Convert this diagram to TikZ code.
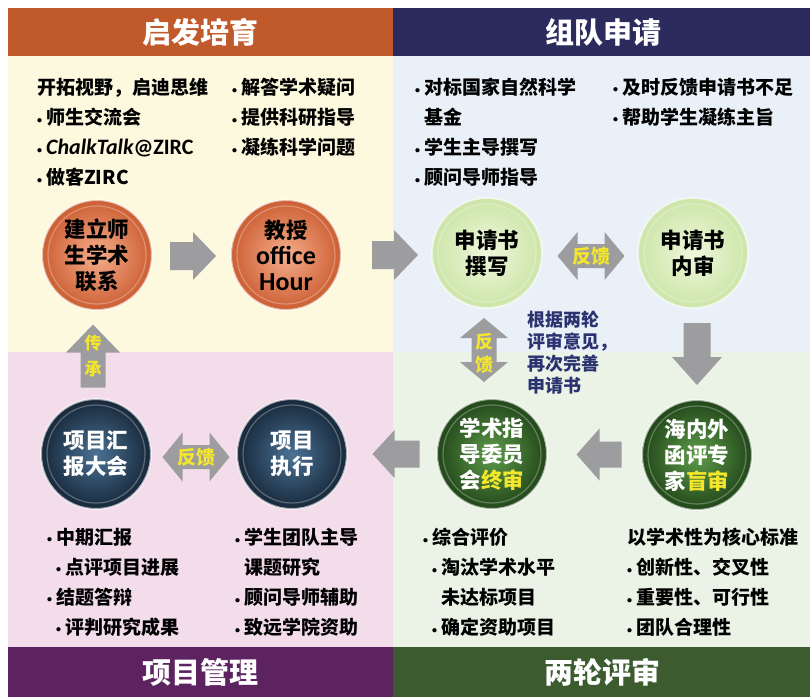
\documentclass[tikz,border=0pt]{standalone}
\usepackage{fontspec}
\setmainfont{Noto Sans CJK SC}
\newfontfamily\carlito{Carlito}
\usetikzlibrary{calc}
\definecolor{bandO}{HTML}{C05A2B}
\definecolor{bandN}{HTML}{2B2B5E}
\definecolor{bandP}{HTML}{5C2360}
\definecolor{bandG}{HTML}{3C5B2E}
\definecolor{bgCream}{HTML}{FCF9DE}
\definecolor{bgBlue}{HTML}{E9F0F8}
\definecolor{bgPink}{HTML}{F4DDEB}
\definecolor{bgGreen}{HTML}{EAF3E5}
\definecolor{arrowgray}{HTML}{9D9D9F}
\definecolor{fbyellow}{HTML}{F3E62C}
\definecolor{noteblue}{HTML}{2B3270}
\definecolor{oIn}{HTML}{F6AE8C}
\definecolor{oOut}{HTML}{CC5E33}
\definecolor{lIn}{HTML}{EFF8DC}
\definecolor{lOut}{HTML}{CCE5A8}
\definecolor{nIn}{HTML}{4A7294}
\definecolor{nOut}{HTML}{17283A}
\definecolor{gIn}{HTML}{5E9C4A}
\definecolor{gOut}{HTML}{22471A}
\newcommand\bu{\makebox[9pt][l]{\raisebox{1.5pt}{\carlito\fontsize{10}{10}\selectfont •}}}
\newcommand\ind{\hspace*{9pt}}
\newcommand\yel[1]{\textcolor{fbyellow}{#1}}
\tikzset{
  ball/.style={circle, minimum size=110pt, inner sep=0pt, align=center,
    font=\bfseries\fontsize{21.5}{26}\selectfont, draw=white, draw opacity=0.6, line width=2pt},
  oball/.style={ball, inner color=oIn, outer color=oOut, text=black},
  lball/.style={ball, inner color=lIn, outer color=lOut, text=black},
  nball/.style={ball, inner color=nIn, outer color=nOut, text=white},
  gball/.style={ball, inner color=gIn, outer color=gOut, text=white},
  ring/.style={draw=white, draw opacity=0.28, line width=1.2pt},
  txt/.style={anchor=north west, inner sep=0pt, align=left, text=black,
    font=\bfseries\fontsize{19}{30}\selectfont},
  title/.style={text=white, inner sep=0pt, font=\bfseries\fontsize{29}{30}\selectfont},
  fb/.style={text=fbyellow, inner sep=0pt, align=center, font=\bfseries\fontsize{19}{23}\selectfont},
  pics/sarr/.style args={#1/#2/#3/#4}{code={
    \fill[arrowgray] ({-#1/2},{-#3/2}) -- ({#1/2-#4},{-#3/2}) -- ({#1/2-#4},{-#2/2}) -- ({#1/2},0)
      -- ({#1/2-#4},{#2/2}) -- ({#1/2-#4},{#3/2}) -- ({-#1/2},{#3/2}) -- cycle;}},
  pics/darr/.style args={#1/#2/#3/#4}{code={
    \fill[arrowgray] ({-#1/2},0) -- ({-#1/2+#4},{-#2/2}) -- ({-#1/2+#4},{-#3/2}) -- ({#1/2-#4},{-#3/2})
      -- ({#1/2-#4},{-#2/2}) -- ({#1/2},0) -- ({#1/2-#4},{#2/2}) -- ({#1/2-#4},{#3/2})
      -- ({-#1/2+#4},{#3/2}) -- ({-#1/2+#4},{#2/2}) -- cycle;}},
}
\begin{document}
\begin{tikzpicture}[x=1pt,y=-1pt]
\useasboundingbox (0,0) rectangle (810,697);
\fill[white] (0,0) rectangle (810,697);
% panels
\fill[bgCream] (8,56) rectangle (393,352);
\fill[bgBlue] (393,56) rectangle (810,352);
\fill[bgPink] (8,352) rectangle (393,647);
\fill[bgGreen] (393,352) rectangle (810,647);
\fill[bandO] (8,8) rectangle (393,56);
\fill[bandN] (393,8) rectangle (810,56);
\fill[bandP] (8,647) rectangle (393,697);
\fill[bandG] (393,647) rectangle (810,697);
% titles
\node[title] (h1) at (200,32) {启发培育};
\node[title] (h2) at (603,32) {组队申请};
\node[title] (h3) at (200,672) {项目管理};
\node[title] (h4) at (602,672) {两轮评审};
% text blocks
\node[txt] (t1) at (37,78) {开拓视野，启迪思维\\\bu 师生交流会\\\bu{\carlito\fontsize{22}{30}\selectfont\itshape ChalkTalk\upshape @ZIRC}\\\bu 做客ZIRC};
\node[txt] (t2) at (232,78) {\bu 解答学术疑问\\\bu 提供科研指导\\\bu 凝练科学问题};
\node[txt] (t3) at (415,78) {\bu 对标国家自然科学\\\ind 基金\\\bu 学生主导撰写\\\bu 顾问导师指导};
\node[txt] (t4) at (613,78) {\bu 及时反馈申请书不足\\\bu 帮助学生凝练主旨};
\node[txt] (t5) at (47,528) {\bu 中期汇报\\\ind\bu 点评项目进展\\\bu 结题答辩\\\ind\bu 评判研究成果};
\node[txt] (t6) at (235,528) {\bu 学生团队主导\\\ind 课题研究\\\bu 顾问导师辅助\\\bu 致远学院资助};
\node[txt] (t7) at (423,528) {\bu 综合评价\\\ind\bu 淘汰学术水平\\\ind\ind 未达标项目\\\ind\bu 确定资助项目};
\node[txt] (t8) at (627,528) {以学术性为核心标准\\\bu 创新性、交叉性\\\bu 重要性、可行性\\\bu 团队合理性};
\node[txt, text=noteblue, font=\bfseries\fontsize{18}{22}\selectfont] (note) at (527,311)
  {根据两轮\\评审意见，\\再次完善\\申请书};
% circles
\node[oball] (c1) at (97,255) {建立师\\生学术\\联系};
\node[oball] (c2) at (286,255) {教授\\{\carlito\fontsize{26}{26}\selectfont office}\\{\carlito\fontsize{26}{26}\selectfont Hour}};
\node[lball] (c3) at (487,253) {申请书\\撰写};
\node[lball] (c4) at (693,253) {申请书\\内审};
\node[nball] (c5) at (96,454) {项目汇\\报大会};
\node[nball] (c6) at (292,454) {项目\\执行};
\node[gball] (c7) at (492,454) {学术指\\导委员\\会\yel{终审}};
\node[gball] (c8) at (697,455) {海内外\\函评专\\家\yel{盲审}};
\foreach \c in {c1,c2,c3,c4,c5,c6,c7,c8} \draw[ring] (\c) circle[radius=49pt];
% block arrows
\coordinate (a12) at ($(c1)!0.5!(c2)+(1.5,1)$);
\coordinate (a23) at ($(c2)!0.5!(c3)+(8.5,1)$);
\coordinate (a34) at ($(c3)!0.5!(c4)+(1,3)$);
\coordinate (a48) at ($(c4)!0.5!(c8)+(2,0)$);
\coordinate (a87) at ($(c8)!0.5!(c7)+(4.5,0)$);
\coordinate (a76) at ($(c7)!0.5!(c6)+(4,0)$);
\coordinate (a65) at ($(c6)!0.5!(c5)+(2,3)$);
\coordinate (a51) at ($(c5)!0.5!(c1)+(-3.5,1.5)$);
\coordinate (a37) at ($(c3)!0.5!(c7)+(-5.5,-3.5)$);
\pic at (a12) {sarr=46/48/28/23};
\pic at (a23) {sarr=46/50/28/24};
\pic at (a34) {darr=67/48/24/20};
\pic[rotate=-90] at (a48) {sarr=62/50/27/28};
\pic[rotate=180] at (a87) {sarr=45/52/26/23};
\pic[rotate=180] at (a76) {sarr=47/48/27/22};
\pic at (a65) {darr=67/49/24/20};
\pic[rotate=90] at (a51) {sarr=63/54/25/28};
\pic[rotate=90] at (a37) {darr=64/48/25/20};
\node[fb] (f34) at (a34) {反馈};
\node[fb] (f65) at (a65) {反馈};
\node[fb, font=\bfseries\fontsize{18}{23}\selectfont] (f37) at ($(a37)+(0,3)$) {反\\馈};
\node[fb, font=\bfseries\fontsize{17}{26}\selectfont] (f51) at ($(a51)+(0,0)$) {传\\承};
\end{tikzpicture}
\end{document}
